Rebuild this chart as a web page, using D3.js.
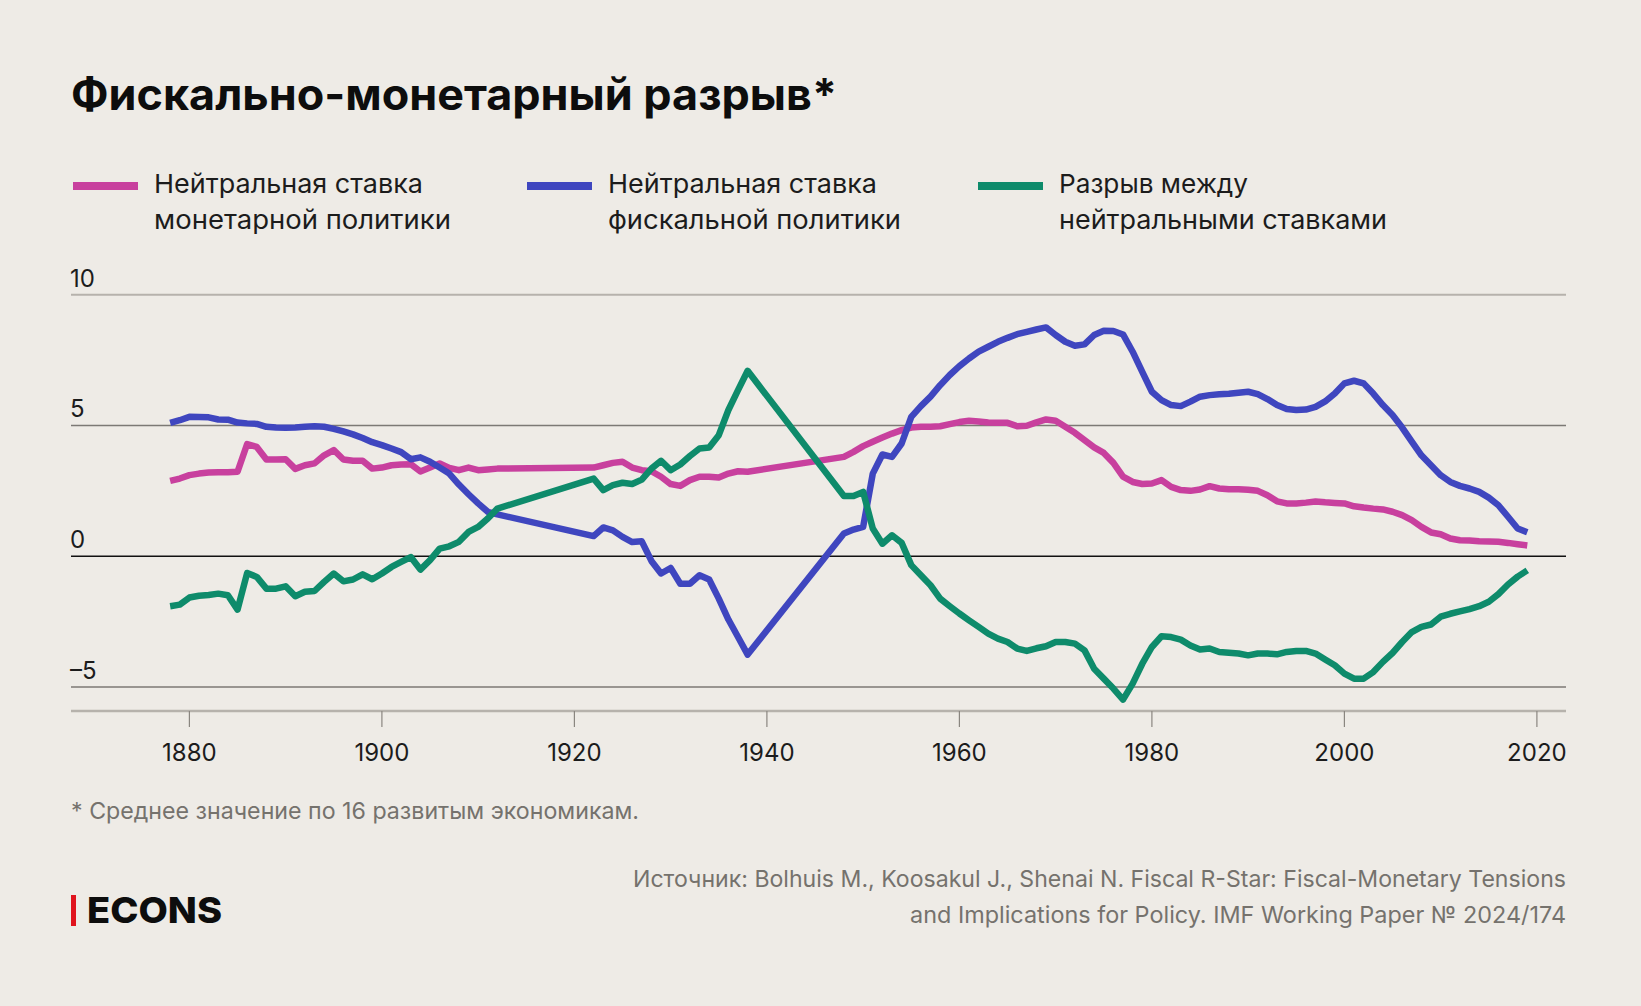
<!DOCTYPE html>
<html>
<head>
<meta charset="utf-8">
<script src="https://cdn.jsdelivr.net/npm/d3@7"></script>
<style>
  body { margin: 0; background: #eeebe6; }
  svg { display: block; font-family: Inter, "Noto Sans", sans-serif; }
</style>
</head>
<body>
<svg id="svg"></svg>
<script>
// years with data: gaps 1913-1921 and 1939-1947 are drawn as straight segments
const years = [].concat(d3.range(1878, 1913), d3.range(1922, 1939), d3.range(1948, 2020));

// neutral rate of monetary policy
const monetary = [
  2.88, 2.97, 3.10, 3.16, 3.20, 3.21, 3.21, 3.23, 4.29, 4.18, 3.70, 3.70, 3.71, 3.34, 3.48, 3.55, 3.86, 4.06, 3.70, 3.65,
  3.65, 3.35, 3.39, 3.48, 3.51, 3.52, 3.24, 3.39, 3.55, 3.38, 3.29, 3.39, 3.29, 3.32, 3.35,
  3.39, 3.48, 3.57, 3.61, 3.39, 3.29, 3.25, 3.04, 2.76, 2.69, 2.91, 3.04, 3.04, 3.01, 3.16, 3.25, 3.23,
  3.80, 3.99, 4.21, 4.38, 4.54, 4.69, 4.82, 4.92, 4.95, 4.95, 4.97, 5.05, 5.13, 5.18, 5.15, 5.11, 5.10, 5.10, 4.97, 4.99,
  5.12, 5.23, 5.18, 4.95, 4.72, 4.44, 4.16, 3.95, 3.57, 3.04, 2.84, 2.76, 2.78, 2.91, 2.65, 2.53, 2.50, 2.55, 2.68, 2.59,
  2.56, 2.56, 2.54, 2.50, 2.33, 2.10, 2.02, 2.02, 2.05, 2.09, 2.06, 2.04, 2.02, 1.91, 1.86, 1.82, 1.79, 1.70, 1.57, 1.38,
  1.12, 0.91, 0.84, 0.68, 0.61, 0.60, 0.57, 0.56, 0.55, 0.51, 0.46, 0.41
];

// neutral rate of fiscal policy
const fiscal = [
  5.10, 5.20, 5.33, 5.32, 5.31, 5.23, 5.22, 5.11, 5.08, 5.06, 4.95, 4.92, 4.91, 4.92, 4.95, 4.97, 4.95, 4.87, 4.77, 4.66,
  4.52, 4.36, 4.25, 4.12, 3.98, 3.71, 3.78, 3.61, 3.39, 3.16, 2.74, 2.37, 2.02, 1.70, 1.60,
  0.77, 1.10, 0.99, 0.74, 0.54, 0.57, -0.18, -0.66, -0.45, -1.05, -1.05, -0.73, -0.89, -1.62, -2.42, -3.09, -3.76,
  0.87, 1.02, 1.12, 3.16, 3.89, 3.80, 4.31, 5.33, 5.74, 6.10, 6.54, 6.93, 7.27, 7.56, 7.82, 8.01, 8.20, 8.35, 8.49, 8.58,
  8.67, 8.75, 8.46, 8.20, 8.05, 8.10, 8.46, 8.62, 8.61, 8.48, 7.82, 7.05, 6.29, 5.97, 5.78, 5.74, 5.91, 6.10, 6.16, 6.19,
  6.21, 6.25, 6.29, 6.20, 6.01, 5.78, 5.63, 5.59, 5.61, 5.71, 5.92, 6.22, 6.61, 6.71, 6.61, 6.22, 5.78, 5.40, 4.92, 4.38,
  3.86, 3.48, 3.10, 2.84, 2.69, 2.59, 2.46, 2.24, 1.95, 1.51, 1.06, 0.92
];

// gap between the neutral rates
const gap = [
  -1.91, -1.85, -1.58, -1.51, -1.48, -1.43, -1.49, -2.04, -0.64, -0.79, -1.24, -1.24, -1.15, -1.53, -1.36, -1.33, -0.98, -0.66, -0.96, -0.89,
  -0.69, -0.88, -0.66, -0.41, -0.22, -0.03, -0.51, -0.15, 0.29, 0.38, 0.55, 0.93, 1.12, 1.44, 1.82,
  2.97, 2.53, 2.72, 2.81, 2.76, 2.93, 3.35, 3.65, 3.29, 3.51, 3.83, 4.12, 4.16, 4.63, 5.59, 6.35, 7.09,
  2.30, 2.30, 2.46, 1.06, 0.48, 0.80, 0.51, -0.34, -0.73, -1.11, -1.62, -1.91, -2.19, -2.45, -2.70, -2.96, -3.15, -3.28, -3.53, -3.62,
  -3.52, -3.44, -3.28, -3.28, -3.34, -3.60, -4.30, -4.68, -5.06, -5.48, -4.87, -4.11, -3.47, -3.06, -3.09, -3.19, -3.41, -3.57, -3.53, -3.66,
  -3.69, -3.72, -3.79, -3.72, -3.72, -3.75, -3.66, -3.62, -3.62, -3.72, -3.95, -4.17, -4.49, -4.68, -4.68, -4.43, -4.04, -3.70, -3.28, -2.90,
  -2.70, -2.61, -2.31, -2.20, -2.11, -2.02, -1.91, -1.74, -1.45, -1.08, -0.78, -0.54
];

const seriesNames = [
  ['Нейтральная ставка', 'монетарной политики'],
  ['Нейтральная ставка', 'фискальной политики'],
  ['Разрыв между', 'нейтральными ставками']
];
const seriesColors = ['#c8409e', '#3f46bf', '#0e8b6b'];
const yTicks = [10, 5, 0, -5];
const xTicks = [1880, 1900, 1920, 1940, 1960, 1980, 2000, 2020];

const width = 1641;
const height = 1006;

const svg = d3.select('#svg')
  .attr('width', width)
  .attr('height', height);

svg.append('rect')
  .attr('width', width)
  .attr('height', height)
  .attr('fill', '#eeebe6');

// stretch a text element to a measured width
function fit(sel, w) {
  sel.attr('textLength', w).attr('lengthAdjust', 'spacingAndGlyphs');
  return sel;
}

// Title
fit(svg.append('text')
  .attr('x', 71)
  .attr('y', 110)
  .attr('font-size', 44)
  .attr('font-weight', 700)
  .attr('fill', '#0d0d0d')
  .text('Фискально-монетарный разрыв*'), 766);

// Legend
const legendX = [73, 527, 978];
const legendW = [[269, 297], [269, 293], [189, 328]];
seriesNames.forEach((lines, i) => {
  svg.append('rect')
    .attr('x', legendX[i])
    .attr('y', 182)
    .attr('width', 65)
    .attr('height', 8)
    .attr('fill', seriesColors[i]);
  lines.forEach((t, j) => {
    fit(svg.append('text')
      .attr('x', legendX[i] + 81)
      .attr('y', 193 + j * 36)
      .attr('font-size', 26)
      .attr('fill', '#1c1c1c')
      .text(t), legendW[i][j]);
  });
});

// Scales
const x = d3.scaleLinear()
  .domain([1880, 2020])
  .range([189.4, 1536.9]);

const y = d3.scaleLinear()
  .domain([-5, 10])
  .range([687, 294.7]);

const left = 71;
const right = 1566;

// gridlines
const grid = svg.append('g');
yTicks.forEach(t => {
  grid.append('line')
    .attr('x1', left)
    .attr('x2', right)
    .attr('y1', y(t))
    .attr('y2', y(t))
    .attr('stroke', t === 0 ? '#111' : (t === 10 ? '#b6b2ac' : '#7c7975'))
    .attr('stroke-width', t === 10 ? 2 : 1.4);
  grid.append('text')
    .attr('x', 70)
    .attr('y', y(t) - 8)
    .attr('font-size', 24)
    .attr('fill', '#1c1c1c')
    .text(t < 0 ? '–' + Math.abs(t) : t);
});

// x axis
const xAxis = svg.append('g')
  .attr('transform', 'translate(0, 711)');
xAxis.append('line')
  .attr('x1', left)
  .attr('x2', right)
  .attr('stroke', '#b6b2ac')
  .attr('stroke-width', 2.5);
xAxis.selectAll('.tick')
  .data(xTicks)
  .enter()
  .append('line')
  .attr('x1', d => x(d))
  .attr('x2', d => x(d))
  .attr('y1', 0)
  .attr('y2', 16)
  .attr('stroke', '#8a8680')
  .attr('stroke-width', 1.2);
xAxis.selectAll('.lbl')
  .data(xTicks)
  .enter()
  .append('text')
  .attr('x', d => x(d))
  .attr('y', 50)
  .attr('text-anchor', 'middle')
  .attr('font-size', 24)
  .attr('fill', '#1c1c1c')
  .text(d => d);

// Lines
const line = d3.line()
  .x((d, i) => x(years[i]))
  .y(d => y(d));

[monetary, fiscal, gap].forEach((s, i) => {
  svg.append('path')
    .datum(s)
    .attr('d', line)
    .attr('fill', 'none')
    .attr('stroke', seriesColors[i])
    .attr('stroke-width', 6.5)
    .attr('stroke-linejoin', 'round')
    .attr('stroke-linecap', 'butt');
});

// Footnote and source
fit(svg.append('text')
  .attr('x', 71)
  .attr('y', 819)
  .attr('font-size', 23)
  .attr('fill', '#75726d')
  .text('* Среднее значение по 16 развитым экономикам.'), 568);

const source = [
  'Источник: Bolhuis M., Koosakul J., Shenai N. Fiscal R-Star: Fiscal-Monetary Tensions',
  'and Implications for Policy. IMF Working Paper № 2024/174'
];
const sourceW = [933, 656];
source.forEach((t, j) => {
  fit(svg.append('text')
    .attr('x', 1566 - sourceW[j])
    .attr('y', 887 + j * 36)
    .attr('font-size', 23)
    .attr('fill', '#75726d')
    .text(t), sourceW[j]);
});

// Logo
svg.append('rect')
  .attr('x', 71)
  .attr('y', 895)
  .attr('width', 5)
  .attr('height', 31)
  .attr('fill', '#e0141e');
fit(svg.append('text')
  .attr('x', 87)
  .attr('y', 923)
  .attr('font-size', 36)
  .attr('font-weight', 800)
  .attr('fill', '#0d0d0d')
  .text('ECONS'), 135);
</script>
</body>
</html>
